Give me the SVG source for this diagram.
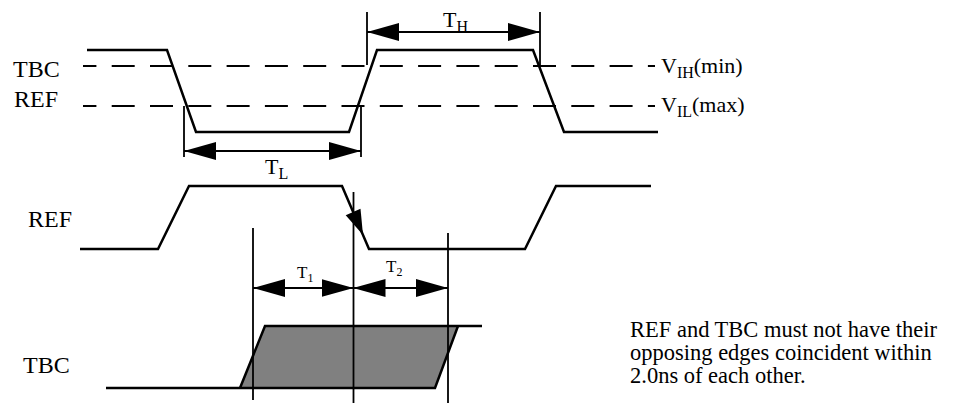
<svg xmlns="http://www.w3.org/2000/svg" width="957" height="405" viewBox="0 0 957 405">
<style>
text{font-family:"Liberation Serif","Times New Roman",serif;fill:#000}
.lbl{font-size:24px}
.v{font-size:22px}
.note{font-size:22.5px}
.wave{fill:none;stroke:#000;stroke-width:2.5;stroke-linejoin:miter}
.dash{fill:none;stroke:#000;stroke-width:2;stroke-dasharray:23 15.3;stroke-dashoffset:9.6}
.vl{stroke:#000;stroke-width:1.8;fill:none}
.dim{stroke:#000;stroke-width:1.8;fill:none;marker-start:url(#ah);marker-end:url(#ah)}
</style>
<defs>
<marker id="ah" markerUnits="userSpaceOnUse" markerWidth="32" markerHeight="18" viewBox="0 0 32 18" refX="32" refY="9" orient="auto-start-reverse">
<path d="M0,0 L32,9 L0,18 z" fill="#000"/>
</marker>
</defs>
<rect width="957" height="405" fill="#fff"/>
<g id="labels">
<text class="lbl" x="13" y="77">TBC</text>
<text class="lbl" x="14" y="107">REF</text>
<text class="lbl" x="28" y="227">REF</text>
<text class="lbl" x="23" y="373">TBC</text>
<text class="v" x="661" y="73">V<tspan font-size="16" dy="5">IH</tspan><tspan dy="-5">(min)</tspan></text>
<text class="v" x="661" y="112">V<tspan font-size="16" dy="5">IL</tspan><tspan dy="-5">(max)</tspan></text>
</g>
<g id="thresholds">
<line class="dash" x1="83" y1="66" x2="655" y2="66"/>
<line class="dash" x1="83" y1="106" x2="655" y2="106"/>
</g>
<g id="tbc-top">
<polyline class="wave" points="87,50 167,50 196,132 349,132 377,50 533,50 564,132 658,132"/>
</g>
<g id="ref-wave">
<polyline class="wave" points="80,249 158,249 189,186 342,186 369,249 525,249 556,186 651,186"/>
<polygon points="363,235 345.7,215.2 360.5,208.8" fill="#000"/>
</g>
<g id="tbc-wave">
<polygon points="240,388 265,326 458,326 435,388" fill="#808080" stroke="none"/>
<polyline class="wave" points="106,388 435,388 458,326"/>
<polyline class="wave" points="240,388 265,326 482,326"/>
</g>
<g id="connectors">
<line class="vl" x1="367" y1="12" x2="367" y2="65"/>
<line class="vl" x1="540" y1="12" x2="540" y2="65"/>
<line class="dim" x1="367" y1="32" x2="540" y2="32"/>
<line class="vl" x1="184" y1="106" x2="184" y2="157"/>
<line class="vl" x1="361" y1="106" x2="361" y2="157"/>
<line class="dim" x1="184" y1="151" x2="361" y2="151"/>
<line class="vl" x1="353.5" y1="192" x2="353.5" y2="403"/>
<line class="vl" x1="253" y1="228" x2="253" y2="400"/>
<line class="vl" x1="448" y1="233" x2="448" y2="403"/>
<line class="dim" x1="253" y1="288" x2="353.5" y2="288"/>
<line class="dim" x1="353.5" y1="288" x2="448" y2="288"/>
</g>
<g id="dim-labels">
<text x="443" y="27" font-size="22">T<tspan font-size="16" dy="5">H</tspan></text>
<text x="265" y="174" font-size="22">T<tspan font-size="16" dy="5">L</tspan></text>
<text x="297" y="278" font-size="17">T<tspan font-size="12" dy="4">1</tspan></text>
<text x="386" y="272" font-size="17">T<tspan font-size="12" dy="4">2</tspan></text>
</g>
<g id="note">
<text class="note" x="630" y="337">REF and TBC must not have their</text>
<text class="note" x="630" y="360">opposing edges coincident within</text>
<text class="note" x="630" y="383">2.0ns of each other.</text>
</g>
</svg>
